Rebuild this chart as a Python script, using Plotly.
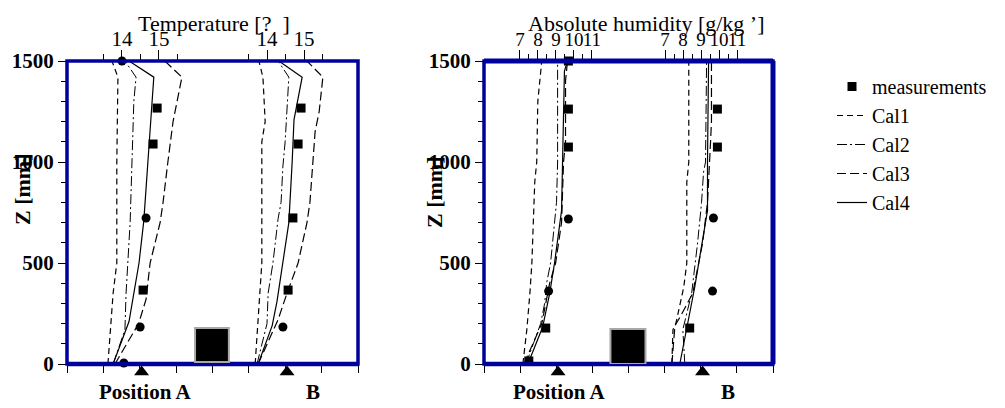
import plotly.graph_objects as go

# ---------------- data ----------------
# Left panel: temperature profiles (deg) vs height Z (mm)
tA_cal1_z = [0, 150, 350, 500, 1000, 1420, 1500]
tA_cal1 = [13.62, 13.68, 13.76, 13.86, 13.86, 13.89, 13.73]
tA_cal2_z = [0, 170, 350, 500, 700, 1000, 1300, 1420, 1500]
tA_cal2 = [13.76, 14.08, 14.11, 14.16, 14.22, 14.27, 14.32, 14.38, 14.08]
tA_cal3_z = [0, 200, 320, 500, 700, 800, 1000, 1200, 1420, 1500]
tA_cal3 = [13.81, 14.45, 14.65, 14.76, 15.03, 15.11, 15.24, 15.38, 15.62, 15.16]
tA_cal4_z = [0, 210, 500, 710, 1000, 1420, 1500]
tA_cal4 = [13.76, 14.19, 14.46, 14.59, 14.70, 14.86, 14.19]
tA_meas_z = [1267, 1500, 1089, 723, 366, 183, 5]
tA_meas = [14.95, 14.0, 14.84, 14.65, 14.57, 14.49, 14.05]
tA_meas_sym = ["square", "circle", "square", "circle", "square", "circle", "circle"]

tB_cal1_z = [0, 350, 500, 1100, 1200, 1420, 1500]
tB_cal1 = [13.68, 13.81, 13.86, 13.86, 13.95, 13.89, 13.78]
tB_cal2_z = [0, 200, 350, 500, 720, 800, 980, 1100, 1420, 1500]
tB_cal2 = [13.73, 14.0, 14.03, 14.16, 14.30, 14.38, 14.43, 14.49, 14.59, 14.30]
tB_cal3_z = [0, 220, 350, 500, 700, 800, 1000, 1150, 1250, 1420, 1500]
tB_cal3 = [13.76, 14.30, 14.54, 14.84, 15.08, 15.16, 15.24, 15.30, 15.41, 15.51, 15.08]
tB_cal4_z = [0, 190, 310, 500, 700, 1000, 1210, 1420, 1500]
tB_cal4 = [13.76, 14.14, 14.27, 14.43, 14.59, 14.68, 14.73, 14.95, 14.32]
tB_meas_z = [1267, 1089, 723, 366, 183]
tB_meas = [14.92, 14.84, 14.70, 14.57, 14.43]
tB_meas_sym = ["square", "square", "square", "square", "circle"]

# Right panel: absolute humidity (g/kg) vs height Z (mm)
hA_cal1_z = [0, 170, 350, 500, 900, 1000, 1300, 1400, 1500]
hA_cal1 = [7.16, 7.38, 7.55, 7.66, 7.82, 7.93, 7.99, 8.10, 8.21]
hA_cal2_z = [0, 200, 300, 400, 500, 600, 700, 800, 1000, 1500]
hA_cal2 = [7.33, 8.15, 8.37, 8.48, 8.70, 8.81, 8.92, 9.03, 9.09, 9.09]
hA_cal3_z = [0, 200, 300, 400, 500, 700, 1000, 1100, 1400, 1500]
hA_cal3 = [7.22, 8.21, 8.43, 8.65, 8.98, 9.31, 9.42, 9.53, 9.53, 9.64]
hA_cal4_z = [0, 183, 350, 500, 760, 1000, 1450, 1500]
hA_cal4 = [7.44, 8.26, 8.65, 8.92, 9.31, 9.36, 9.47, 9.64]
hA_meas_z = [1500, 1262, 1074, 718, 361, 178, 15]
hA_meas = [9.69, 9.69, 9.69, 9.69, 8.59, 8.43, 7.49]
hA_meas_sym = ["square", "square", "square", "circle", "circle", "square", "square"]

hB_cal1_z = [0, 170, 200, 380, 500, 900, 1000, 1500]
hB_cal1 = [7.38, 7.44, 7.60, 8.04, 8.21, 8.21, 8.32, 8.32]
hB_cal2_z = [0, 170, 350, 600, 800, 950, 1000, 1500]
hB_cal2 = [8.10, 7.99, 8.48, 8.81, 9.03, 9.14, 9.25, 9.31]
hB_cal3_z = [0, 190, 230, 350, 600, 800, 1100, 1200, 1500]
hB_cal3 = [7.38, 7.55, 7.82, 8.54, 9.09, 9.36, 9.53, 9.58, 9.58]
hB_cal4_z = [0, 380, 760, 1000, 1500]
hB_cal4 = [7.82, 8.65, 9.36, 9.36, 9.42]
hB_meas_z = [1262, 1074, 723, 361, 178]
hB_meas = [9.91, 9.91, 9.69, 9.64, 8.37]
hB_meas_sym = ["square", "square", "circle", "circle", "square"]

# Geometry (bottom position axis units, Z in mm)
positions_tri = [2.05, 6.05]
obstacle_left_pos = [3.52, 4.45]
obstacle_left_z = [10, 178]
obstacle_right_pos = [3.5, 4.47]
obstacle_right_z = [0, 173]

y_ticks = [0, 500, 1000, 1500]
temp_ticks = [14, 15]
temp_minor = [13.5, 14.5, 15.5]
hum_ticks = [7, 8, 9, 10, 11]
hum_ticklabels = ["7", "8", "9", "10", "11"]
hum_minor = [7.5, 8.5, 9.5, 10.5]

# ---------------- figure ----------------
FONT = "Liberation Serif"
BLUE = "#00009c"
OFF = 8                      # page body margin of the html page
W, H = 1005 - OFF, 408 - OFF  # figure fits the window after the margin

styles = {
    "Cal1": dict(color="black", width=1.2, dash="6px,4px"),
    "Cal2": dict(color="black", width=1.0, dash="10px,3px,2px,3px"),
    "Cal3": dict(color="black", width=1.2, dash="9px,4px"),
    "Cal4": dict(color="black", width=1.2),
}

fig = go.Figure()

def meas(x, z, sym, xa, ya, show):
    fig.add_trace(go.Scatter(x=x, y=z, mode="markers", name="measurements",
                             legendgroup="m", showlegend=show,
                             marker=dict(symbol=sym, size=9, color="black"),
                             xaxis=xa, yaxis=ya, cliponaxis=False))

meas(tB_meas, tB_meas_z, tB_meas_sym, "x3", "y", True)
meas(tA_meas, tA_meas_z, tA_meas_sym, "x2", "y", False)
meas(hA_meas, hA_meas_z, hA_meas_sym, "x5", "y2", False)
meas(hB_meas, hB_meas_z, hB_meas_sym, "x6", "y2", False)

sets = {
    "Cal1": [(tA_cal1, tA_cal1_z, "x2", "y"), (tB_cal1, tB_cal1_z, "x3", "y"),
             (hA_cal1, hA_cal1_z, "x5", "y2"), (hB_cal1, hB_cal1_z, "x6", "y2")],
    "Cal2": [(tA_cal2, tA_cal2_z, "x2", "y"), (tB_cal2, tB_cal2_z, "x3", "y"),
             (hA_cal2, hA_cal2_z, "x5", "y2"), (hB_cal2, hB_cal2_z, "x6", "y2")],
    "Cal3": [(tA_cal3, tA_cal3_z, "x2", "y"), (tB_cal3, tB_cal3_z, "x3", "y"),
             (hA_cal3, hA_cal3_z, "x5", "y2"), (hB_cal3, hB_cal3_z, "x6", "y2")],
    "Cal4": [(tA_cal4, tA_cal4_z, "x2", "y"), (tB_cal4, tB_cal4_z, "x3", "y"),
             (hA_cal4, hA_cal4_z, "x5", "y2"), (hB_cal4, hB_cal4_z, "x6", "y2")],
}
for name, lst in sets.items():
    for i, (x, z, xa, ya) in enumerate(lst):
        fig.add_trace(go.Scatter(x=x, y=z, mode="lines", name=name, legendgroup=name,
                                 showlegend=(i == 0), line=styles[name],
                                 xaxis=xa, yaxis=ya))

# triangles marking positions (on thin helper axes below each panel)
for xa, ya in [("x7", "y3"), ("x8", "y4")]:
    fig.add_trace(go.Scatter(x=positions_tri, y=[0.5, 0.5], mode="markers",
                             marker=dict(symbol="triangle-up", size=13, color="black"),
                             showlegend=False, xaxis=xa, yaxis=ya, cliponaxis=False))

# domains (screen pixels -> paper, compensating the page margin)
def px(v):
    return (v - OFF) / W

def py(v):
    return 1 - (v - OFF) / H

ydom = [py(364), py(61)]
tridom = [py(380), py(364)]
left_dom = [px(67), px(358)]
right_dom = [px(484), px(773)]

ttickfont = dict(family=FONT, size=21, color="black")
htickfont = dict(family=FONT, size=19, color="black")
ytickfont = dict(family=FONT, size=21, color="black", weight="bold")

def bottom_axis(dom, anchor):
    return dict(domain=dom, range=[0, 8], anchor=anchor, tickmode="array",
                tickvals=list(range(9)), ticktext=[""] * 9, ticks="outside",
                ticklen=8, tickcolor="black", tickwidth=1, showgrid=False,
                zeroline=False, showline=False, fixedrange=True, automargin=False)

def hidden_axis(dom, rng, anchor):
    return dict(domain=dom, range=rng, anchor=anchor, visible=False,
                fixedrange=True, automargin=False)

def top_axis(rng, overlay, anchor, tv, tt, mv, tf):
    return dict(range=rng, overlaying=overlay, anchor=anchor, side="top",
                tickmode="array", tickvals=tv, ticktext=tt, ticks="outside",
                ticklen=10, tickcolor="black", tickwidth=1, tickfont=tf,
                tickangle=0, ticklabelstandoff=-4,
                minor=dict(tickmode="array", tickvals=mv, ticks="outside",
                           ticklen=6, tickcolor="black", tickwidth=1),
                showgrid=False, zeroline=False, showline=False, fixedrange=True,
                automargin=False)

def yaxis(dom, anchor):
    return dict(domain=dom, range=[0, 1500], anchor=anchor, tickmode="array",
                tickvals=y_ticks, ticks="outside", ticklen=8, tickcolor="black",
                tickwidth=1, tickfont=ytickfont, ticklabelstandoff=0,
                minor=dict(dtick=100, ticks="outside", ticklen=5, tickcolor="black"),
                showgrid=False, zeroline=False, showline=False, fixedrange=True,
                automargin=False)

temp_lbl = [str(t) for t in temp_ticks]
fig.update_layout(
    width=W, height=H, margin=dict(l=0, r=0, t=0, b=0, autoexpand=False),
    paper_bgcolor="white", plot_bgcolor="white",
    font=dict(family=FONT, color="black"),
    xaxis=bottom_axis(left_dom, "y"),
    xaxis2=top_axis([12.514, 20.378], "x", "y", temp_ticks, temp_lbl, temp_minor, ttickfont),
    xaxis3=top_axis([8.595, 16.459], "x", "y", temp_ticks, temp_lbl, temp_minor, ttickfont),
    xaxis4=bottom_axis(right_dom, "y2"),
    xaxis5=top_axis([5.0, 21.06], "x4", "y2", hum_ticks, hum_ticklabels, hum_minor, htickfont),
    xaxis6=top_axis([-3.06, 13.0], "x4", "y2", hum_ticks, hum_ticklabels, hum_minor, htickfont),
    xaxis7=hidden_axis(left_dom, [0, 8], "y3"),
    xaxis8=hidden_axis(right_dom, [0, 8], "y4"),
    yaxis=yaxis(ydom, "x"),
    yaxis2=yaxis(ydom, "x4"),
    yaxis3=hidden_axis(tridom, [0, 1], "x7"),
    yaxis4=hidden_axis(tridom, [0, 1], "x8"),
    legend=dict(x=px(832), y=py(67), xanchor="left", yanchor="top",
                font=dict(family=FONT, size=20, color="black"),
                bgcolor="rgba(0,0,0,0)", tracegroupgap=0, itemwidth=30),
    showlegend=True,
)

# frames (blue boxes, some edges heavier as in the original) and obstacles
for xr, yr in [("x", "y"), ("x4", "y2")]:
    fig.add_shape(type="rect", xref=f"{xr} domain", yref=f"{yr} domain",
                  x0=0, x1=1, y0=0, y1=1, line=dict(color=BLUE, width=3.5),
                  layer="above")
fig.add_shape(type="line", xref="x domain", yref="y domain", x0=0, x1=1, y0=0, y1=0,
              line=dict(color=BLUE, width=4.5), layer="above")
fig.add_shape(type="line", xref="x4 domain", yref="y2 domain", x0=0, x1=1, y0=1, y1=1,
              line=dict(color=BLUE, width=5), layer="above")
fig.add_shape(type="line", xref="x4 domain", yref="y2 domain", x0=1, x1=1, y0=0, y1=1,
              line=dict(color=BLUE, width=5), layer="above")
fig.add_shape(type="line", xref="x4 domain", yref="y2 domain", x0=0, x1=1, y0=0, y1=0,
              line=dict(color=BLUE, width=4.5), layer="above")

for xr, yr, pos, zz in [("x", "y", obstacle_left_pos, obstacle_left_z),
                        ("x4", "y2", obstacle_right_pos, obstacle_right_z)]:
    fig.add_shape(type="rect", xref=xr, yref=yr, x0=pos[0], x1=pos[1],
                  y0=zz[0], y1=zz[1], fillcolor="black",
                  line=dict(color="#a8a8a8", width=2), layer="above")

# text annotations
ann = []
ann.append(dict(text="Temperature [?  ]", x=px(214), y=py(23.5), xref="paper", yref="paper",
                xanchor="center", yanchor="middle", showarrow=False,
                font=dict(family=FONT, size=22)))
ann.append(dict(text="Absolute humidity [g/kg ’]", x=px(646), y=py(23.5), xref="paper",
                yref="paper", xanchor="center", yanchor="middle", showarrow=False,
                font=dict(family=FONT, size=22)))
for xz, yz in [(22, 190), (434, 193)]:
    ann.append(dict(text="Z [mm]", x=px(xz), y=py(yz), xref="paper", yref="paper",
                    xanchor="center", yanchor="middle", showarrow=False, textangle=-90,
                    font=dict(family=FONT, size=22, weight="bold")))
for xr, pa, pb in [("x", 2.14, 6.76), ("x4", 2.08, 6.76)]:
    ann.append(dict(text="Position A", x=pa, y=py(392), xref=xr, yref="paper",
                    xanchor="center", yanchor="middle", showarrow=False,
                    font=dict(family=FONT, size=21, weight="bold")))
    ann.append(dict(text="B", x=pb, y=py(392), xref=xr, yref="paper",
                    xanchor="center", yanchor="middle", showarrow=False,
                    font=dict(family=FONT, size=21, weight="bold")))
fig.update_layout(annotations=ann)

fig.write_html("out.html")
